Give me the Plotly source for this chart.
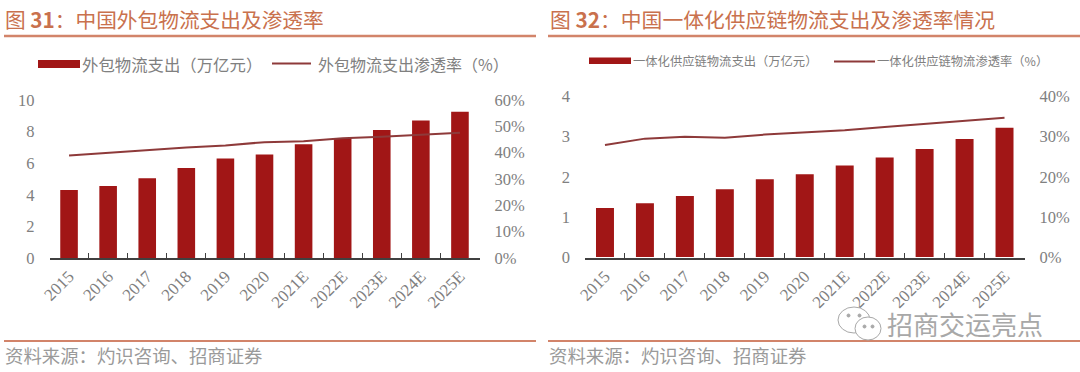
import plotly.graph_objects as go

W, H = 1080, 372

categories = ["2015", "2016", "2017", "2018", "2019", "2020", "2021E", "2022E", "2023E", "2024E", "2025E"]
outsourced_spend = [4.3, 4.55, 5.05, 5.7, 6.3, 6.55, 7.2, 7.6, 8.1, 8.7, 9.25]
outsourced_rate = [38.9, 40.0, 41.0, 42.0, 42.7, 44.0, 44.3, 45.5, 46.0, 46.8, 47.6]
integrated_spend = [1.22, 1.34, 1.52, 1.69, 1.94, 2.06, 2.28, 2.48, 2.69, 2.94, 3.22]
integrated_rate = [27.9, 29.5, 30.0, 29.7, 30.5, 31.0, 31.6, 32.4, 33.2, 33.9, 34.7]

left_ticks = [0, 2, 4, 6, 8, 10]
left_rate_ticks = [0, 10, 20, 30, 40, 50, 60]
left_rate_labels = ["0%", "10%", "20%", "30%", "40%", "50%", "60%"]
right_ticks = [0, 1, 2, 3, 4]
right_rate_ticks = [0, 10, 20, 30, 40]
right_rate_labels = ["0%", "10%", "20%", "30%", "40%"]

BAR = "#A11616"
LINE = "#8E3A3A"
ORANGE = "#C9714D"
RULE = "#D2846A"
GRAY = "#808080"
SOURCE_GRAY = "#9A9A9A"
SERIF = "Liberation Serif"
CJK = "Noto Sans CJK SC"


def px(x):
    return x / W


def py(y):
    return 1 - y / H


fig = go.Figure()

panels = [
    (outsourced_spend, outsourced_rate, "外包物流支出（万亿元）", "外包物流支出渗透率（%）", "x", "y", "y2"),
    (integrated_spend, integrated_rate, "一体化供应链物流支出（万亿元）", "一体化供应链物流渗透率（%）", "x2", "y3", "y4"),
]
for spend, rate, bar_name, line_name, xa, ya, ya2 in panels:
    fig.add_trace(go.Bar(x=categories, y=spend, name=bar_name, xaxis=xa, yaxis=ya,
                         marker=dict(color=BAR, line=dict(width=0)), width=0.45, showlegend=False))
    fig.add_trace(go.Scatter(x=categories, y=rate, name=line_name, xaxis=xa, yaxis=ya2, mode="lines",
                             line=dict(color=LINE, width=2), showlegend=False))


def xaxis(x0, x1):
    return dict(domain=[px(x0), px(x1)], type="category", categoryorder="array", categoryarray=categories,
                tickson="boundaries", ticks="inside", ticklen=5, tickwidth=1.2, tickcolor="#404040",
                showline=True, linecolor="#404040", linewidth=1.5, showgrid=False, tickangle=-45,
                tickfont=dict(family=SERIF, size=17, color=GRAY), zeroline=False, ticklabelstandoff=0)


def yaxis(y0, y1, rng, ticks, labels=None, **kw):
    return dict(domain=[py(y0), py(y1)], range=rng, tickmode="array", tickvals=ticks,
                ticktext=labels if labels else [str(t) for t in ticks], showgrid=False,
                zeroline=False, showline=False, ticks="", ticklabelstandoff=14,
                tickfont=dict(family=SERIF, size=16.5, color=GRAY), **kw)


fig.update_layout(
    width=W, height=H, margin=dict(l=0, r=0, t=0, b=0, pad=0, autoexpand=False), autosize=False,
    paper_bgcolor="white", plot_bgcolor="rgba(0,0,0,0)", showlegend=False,
    xaxis=xaxis(49.5, 479.5),
    yaxis=yaxis(258, 100, [0, 10], left_ticks),
    yaxis2=yaxis(258, 100, [0, 60], left_rate_ticks, left_rate_labels, side="right", overlaying="y", anchor="x"),
    xaxis2=xaxis(585, 1024.5),
    yaxis3=yaxis(257, 96.5, [0, 4], right_ticks, anchor="x2"),
    yaxis4=yaxis(257, 96.5, [0, 40], right_rate_ticks, right_rate_labels, side="right", overlaying="y3", anchor="x2"),
)


def rect(x0, y0, x1, y1, color):
    return dict(type="rect", xref="paper", yref="paper", x0=px(x0), x1=px(x1), y0=py(y0), y1=py(y1),
                fillcolor=color, line=dict(width=0), layer="above")


def hline(x0, x1, y, color, width):
    return dict(type="line", xref="paper", yref="paper", x0=px(x0), x1=px(x1), y0=py(y), y1=py(y),
                line=dict(color=color, width=width))


def circle(x0, y0, x1, y1, line_color="#A8A8A8", fill="white", width=1):
    return dict(type="circle", xref="paper", yref="paper", x0=px(x0), x1=px(x1), y0=py(y0), y1=py(y1),
                fillcolor=fill, line=dict(color=line_color, width=width), layer="above")


def label(x, y, text, size, color, family=CJK, anchor="left"):
    return dict(xref="paper", yref="paper", x=px(x), y=py(y), text=text, showarrow=False, xanchor=anchor,
                yanchor="middle", font=dict(family=family, size=size, color=color), align="left")


shapes = [
    hline(4, 536, 36, RULE, 2.5), hline(548, 1080, 36, RULE, 2.5),
    hline(4, 536, 341, RULE, 2), hline(548, 1080, 341, RULE, 2),
    rect(38, 60, 80, 68, BAR), hline(272, 311, 63.5, LINE, 2),
    rect(589, 57.5, 631, 64, BAR), hline(834, 875, 61.5, LINE, 2),
    # WeChat-style watermark icon
    circle(838, 307, 870, 333), circle(855, 317, 881, 340),
    circle(847, 314, 850, 317, "#A8A8A8", "#A8A8A8"), circle(858, 314, 861, 317, "#A8A8A8", "#A8A8A8"),
    circle(863, 325, 866, 328, "#A8A8A8", "#A8A8A8"), circle(871, 325, 874, 328, "#A8A8A8", "#A8A8A8"),
]

annotations = [
    label(3, 19, "图 <b>31</b>：中国外包物流支出及渗透率", 20.7, ORANGE),
    label(548, 19, "图 <b>32</b>：中国一体化供应链物流支出及渗透率情况", 20.8, ORANGE),
    label(80, 64, "外包物流支出（万亿元）", 16.4, GRAY),
    label(316, 64, "外包物流支出渗透率（%）", 16, GRAY),
    label(631, 61.5, "一体化供应链物流支出（万亿元）", 12.3, GRAY),
    label(875, 61.5, "一体化供应链物流渗透率（%）", 12.3, GRAY),
    label(3, 355, "资料来源：灼识咨询、招商证券", 18.4, SOURCE_GRAY),
    label(547, 355, "资料来源：灼识咨询、招商证券", 18.4, SOURCE_GRAY),
    label(885, 323, "招商交运亮点", 26, "#A8A8A8"),
]
fig.update_layout(shapes=shapes, annotations=annotations)

fig.write_html("out.html", config=dict(displayModeBar=False))
with open("out.html", encoding="utf-8") as f:
    page = f.read()
page = page.replace("<body>", '<body style="margin:0;padding:0;overflow:hidden">', 1)
with open("out.html", "w", encoding="utf-8") as f:
    f.write(page)
